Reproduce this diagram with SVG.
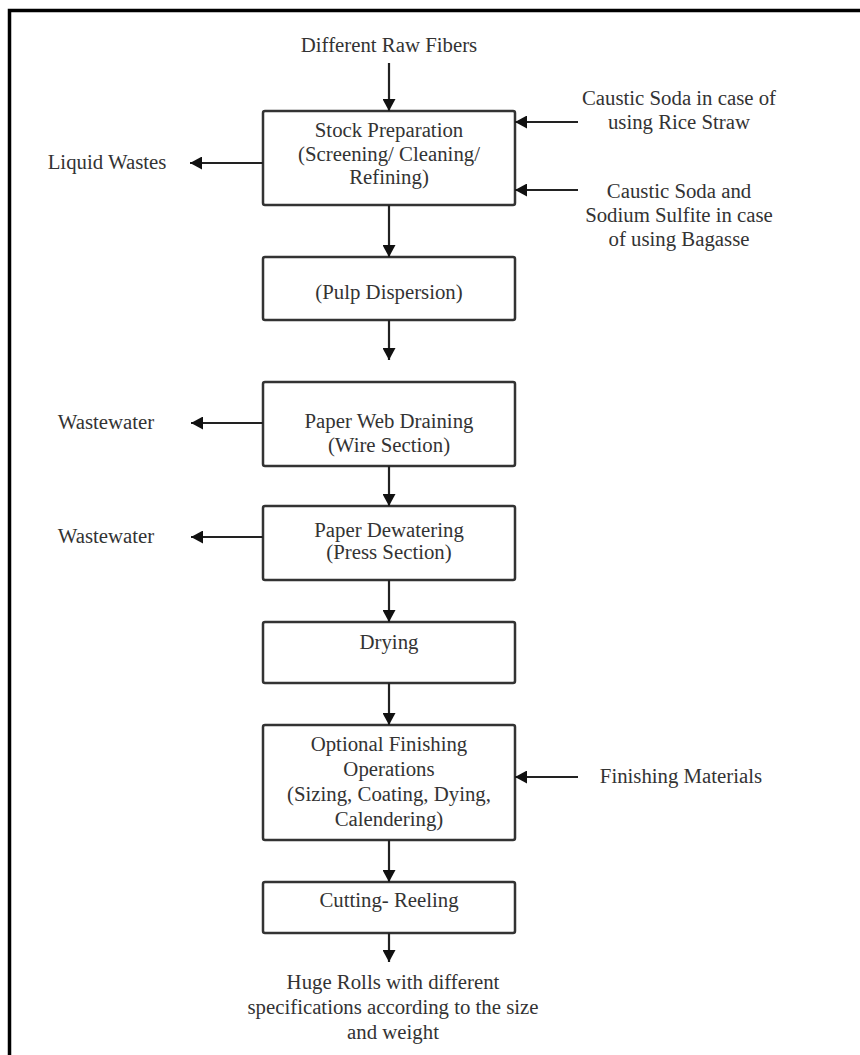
<svg xmlns="http://www.w3.org/2000/svg" width="860" height="1055" viewBox="0 0 860 1055">
<style>
.t{font-family:"Liberation Serif","Times New Roman",serif;font-size:20.8px;fill:#333;text-anchor:middle}
.b{fill:#fff;stroke:#333;stroke-width:2.5}
.c{stroke:#222;stroke-width:2.2;fill:none}
</style>
<defs>
<marker id="ah" markerUnits="userSpaceOnUse" markerWidth="13" markerHeight="13" refX="12" refY="6.5" orient="auto">
<path d="M0,0 L12,6.5 L0,13 z" fill="#111"/>
</marker>
</defs>
<rect x="0" y="0" width="860" height="1055" fill="#fff"/>
<path d="M9.5,1055 L9.5,10.5 L860,10.5" fill="none" stroke="#000" stroke-width="3.5"/>

<g id="raw"><text class="t" x="389" y="52">Different Raw Fibers</text></g>
<g id="stock">
<rect class="b" x="263" y="111" width="252" height="94" rx="2"/>
<text class="t" x="389" y="137">Stock Preparation</text>
<text class="t" x="389" y="161">(Screening/ Cleaning/</text>
<text class="t" x="389" y="184">Refining)</text>
</g>
<g id="liquid"><text class="t" x="107" y="169">Liquid Wastes</text></g>
<g id="caustic1">
<text class="t" x="679" y="105">Caustic Soda in case of</text>
<text class="t" x="679" y="129">using Rice Straw</text>
</g>
<g id="caustic2">
<text class="t" x="679" y="198">Caustic Soda and</text>
<text class="t" x="679" y="222">Sodium Sulfite in case</text>
<text class="t" x="679" y="246">of using Bagasse</text>
</g>
<g id="pulp">
<rect class="b" x="263" y="257" width="252" height="63" rx="2"/>
<text class="t" x="389" y="299">(Pulp Dispersion)</text>
</g>
<g id="web">
<rect class="b" x="263" y="382" width="252" height="84" rx="2"/>
<text class="t" x="389" y="428">Paper Web Draining</text>
<text class="t" x="389" y="452">(Wire Section)</text>
</g>
<g id="ww1"><text class="t" x="106" y="429">Wastewater</text></g>
<g id="dewater">
<rect class="b" x="263" y="506" width="252" height="74" rx="2"/>
<text class="t" x="389" y="537">Paper Dewatering</text>
<text class="t" x="389" y="559">(Press Section)</text>
</g>
<g id="ww2"><text class="t" x="106" y="543">Wastewater</text></g>
<g id="drying">
<rect class="b" x="263" y="622" width="252" height="61" rx="2"/>
<text class="t" x="389" y="649">Drying</text>
</g>
<g id="finishing">
<rect class="b" x="263" y="725" width="252" height="115" rx="2"/>
<text class="t" x="389" y="751">Optional Finishing</text>
<text class="t" x="389" y="776">Operations</text>
<text class="t" x="389" y="801">(Sizing, Coating, Dying,</text>
<text class="t" x="389" y="826">Calendering)</text>
</g>
<g id="materials"><text class="t" x="681" y="783">Finishing Materials</text></g>
<g id="cutting">
<rect class="b" x="263" y="882" width="252" height="51" rx="2"/>
<text class="t" x="389" y="907">Cutting- Reeling</text>
</g>
<g id="rolls">
<text class="t" x="393" y="989">Huge Rolls with different</text>
<text class="t" x="393" y="1014">specifications according to the size</text>
<text class="t" x="393" y="1039">and weight</text>
</g>

<g id="connectors">
<line class="c" x1="389" y1="63" x2="389" y2="111" marker-end="url(#ah)"/>
<line class="c" x1="263" y1="163" x2="190" y2="163" marker-end="url(#ah)"/>
<line class="c" x1="578" y1="122" x2="515" y2="122" marker-end="url(#ah)"/>
<line class="c" x1="578" y1="190" x2="515" y2="190" marker-end="url(#ah)"/>
<line class="c" x1="389" y1="205" x2="389" y2="257" marker-end="url(#ah)"/>
<line class="c" x1="389" y1="320" x2="389" y2="360" marker-end="url(#ah)"/>
<line class="c" x1="263" y1="423" x2="191" y2="423" marker-end="url(#ah)"/>
<line class="c" x1="389" y1="466" x2="389" y2="506" marker-end="url(#ah)"/>
<line class="c" x1="263" y1="537" x2="191" y2="537" marker-end="url(#ah)"/>
<line class="c" x1="389" y1="580" x2="389" y2="622" marker-end="url(#ah)"/>
<line class="c" x1="389" y1="683" x2="389" y2="725" marker-end="url(#ah)"/>
<line class="c" x1="578" y1="777" x2="515" y2="777" marker-end="url(#ah)"/>
<line class="c" x1="389" y1="840" x2="389" y2="882" marker-end="url(#ah)"/>
<line class="c" x1="389" y1="933" x2="389" y2="962" marker-end="url(#ah)"/>
</g>
</svg>
